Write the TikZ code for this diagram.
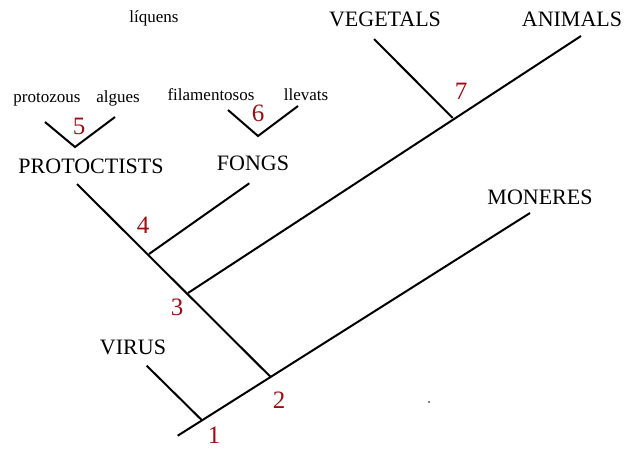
\documentclass[tikz,border=0pt]{standalone}
\usepackage{fontspec}
\setmainfont{Liberation Serif}
\usetikzlibrary{positioning}
\definecolor{numred}{RGB}{160,12,18}

\begin{document}
\begin{tikzpicture}[
    x=1pt, y=-1pt,
    taxon/.style={inner sep=0pt, font=\fontsize{22}{24}\selectfont},
    group/.style={inner sep=0pt, text height=12pt, text depth=4pt,
                font=\fontsize{17}{19}\selectfont},
    num/.style={inner sep=0pt, text=numred, font=\fontsize{25}{27}\selectfont},
    branch/.style={line width=2pt, black}
]
    \useasboundingbox (0,0) rectangle (636,448);

    % junctions and branch ends
    \coordinate (root) at (177.7,435.7);
    \coordinate (n1) at (201.7,420);
    \coordinate (n2) at (270.7,377);
    \coordinate (n3) at (188,293);
    \coordinate (n4) at (149,254);
    \coordinate (n7) at (452.7,118);
    \coordinate (monend) at (530,213);
    \coordinate (virend) at (146.7,365.7);
    \coordinate (proend) at (77,184);
    \coordinate (fonend) at (249.3,183.3);
    \coordinate (aniend) at (581,36);
    \coordinate (vegend) at (374,39);
    \coordinate (v5a) at (45,122);
    \coordinate (n5) at (75,147);
    \coordinate (v5b) at (115,117);
    \coordinate (v6a) at (228,110);
    \coordinate (n6) at (258,136);
    \coordinate (v6b) at (298,106);

    \draw[branch] (root) -- (monend);
    \draw[branch] (n1) -- (virend);
    \draw[branch] (n2) -- (proend);
    \draw[branch] (n3) -- (aniend);
    \draw[branch] (n4) -- (fonend);
    \draw[branch] (n7) -- (vegend);
    \draw[branch] (v5a) -- (n5) -- (v5b);
    \draw[branch] (v6a) -- (n6) -- (v6b);

    % names
    \node[taxon] (virus) at (133,347) {VIRUS};
    \node[taxon] (moneres) at (540,197) {MONERES};
    \node[taxon] (protoctists) at (91,166) {PROTOCTISTS};
    \node[taxon] (fongs) at (253,163) {FONGS};
    \node[taxon] (vegetals) at (385,19) {VEGETALS};
    \node[taxon] (animals) at (572,19) {ANIMALS};

    \node[group] (liquens) at (154,18) {líquens};
    \node[group] (protozous) at (47,98) {protozous};
    \node[group] (algues) at (118,98) {algues};
    \node[group] (filament) at (211,96) {filamentosos};
    \node[group] (llevats) at (306,96) {llevats};

    % numbers
    \node[num] (lab1) at (214,435.5) {1};
    \node[num] (lab2) at (279,400) {2};
    \node[num] (lab3) at (177,307) {3};
    \node[num] (lab4) at (143,225) {4};
    \node[num] (lab5) at (79,126) {5};
    \node[num] (lab6) at (258,113) {6};
    \node[num] (lab7) at (461,91) {7};

    \fill (429,402) circle (0.9);
\end{tikzpicture}
\end{document}
